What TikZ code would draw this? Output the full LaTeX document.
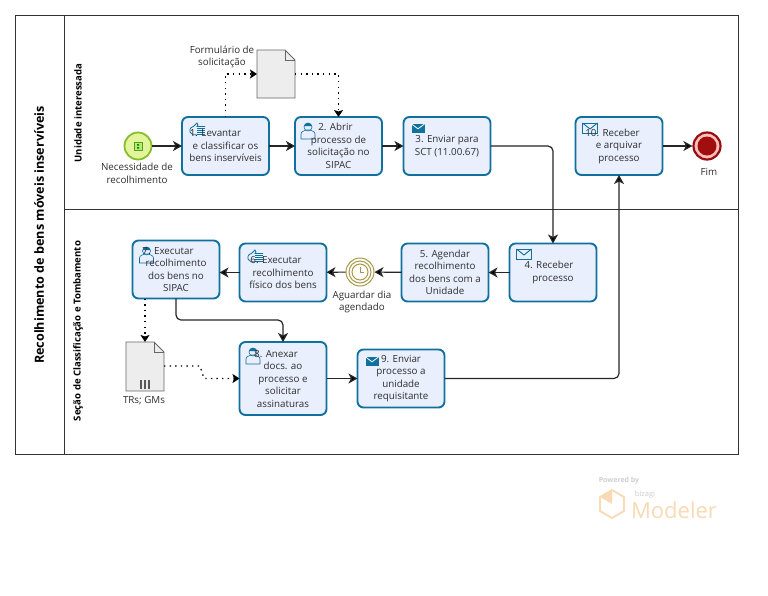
\documentclass[tikz,border=0pt]{standalone}
\usepackage{fontspec}
\setmainfont{Open Sans}
\usepackage{xcolor}
\usetikzlibrary{arrows.meta,calc}
\definecolor{taskfill}{HTML}{E9EFFD}
\definecolor{taskline}{HTML}{10719E}
\definecolor{labeltext}{HTML}{2E2E2E}
\definecolor{startfill}{HTML}{E3F59B}
\definecolor{startline}{HTML}{85BD2C}
\definecolor{endline}{HTML}{950F0F}
\definecolor{timerline}{HTML}{A89A45}
\definecolor{wmorange}{HTML}{FAD9B5}
\definecolor{wmgray}{HTML}{CFCFCF}
\tikzset{
	every node/.append style={font=\fontsize{9.8}{12.5}\selectfont, text=labeltext},
	task/.style = {
			draw=taskline, fill=taskfill, line width=1.9pt,
			rounded corners=6pt,
			minimum width=87pt, minimum height=58pt,
			inner sep=0pt, outer sep=0pt, align=center,
		},
	taskicon/.style 2 args = {
			path picture={\pic[sharp corners] at ($(path picture bounding box.north west)+(#1)$) {#2};},
		},
	doc/.style = {
			minimum width=38pt, minimum height=48pt,
			inner sep=0pt, outer sep=0pt,
		},
	caption/.style = {align=center, inner sep=0pt},
	lanetitle/.style = {rotate=90, inner sep=0pt, text=black, font=\fontsize{9.6}{11}\bfseries\selectfont},
	flow/.style = {draw=black!85, line width=1.2pt, rounded corners=5pt, -{Stealth[length=9pt,width=10pt,inset=2.5pt,fill=black]}},
	assoc/.style = {draw=black, line width=1.3pt, dash pattern=on 1.4pt off 4.2pt, -{Stealth[length=7pt,width=9pt,inset=1.5pt,fill=black]}},
	sendmail/.pic = {
			\fill[taskline] (-6.5,-4.5) rectangle (6.5,4.5);
			\draw[white, line width=0.8pt] (-6.5,-4) -- (0,0.8) -- (6.5,-4);
		},
	getmail/.pic = {
			\draw[taskline, line width=0.9pt] (-7.5,-5) rectangle (7.5,5);
			\draw[taskline, line width=0.9pt] (-7.5,-5) -- (0,1) -- (7.5,-5);
		},
	useric/.pic = {
			\draw[taskline, line width=0.6pt] (-7,9) -- (-7,4) .. controls (-7,1) and (-3,1) .. (-2,0) -- (2,0) .. controls (3,1) and (7,1) .. (7,4) -- (7,9) -- cycle;
			\draw[taskline, line width=0.6pt] (0,-3) circle (4pt);
			\fill[taskline] (-4,-4) .. controls (-3,-8) and (3,-8) .. (4,-4) -- cycle;
		},
	handic/.pic = {
			\draw[taskline, line width=0.8pt] (-7,2) .. controls (-8,-2) and (-5,-3) .. (-3,-4) -- (0,-7) -- (1,-5) -- (0,-3.5) -- (8,-3.5) (-7,2) .. controls (-6,5) and (-3,5) .. (0,5);
			\foreach \yy in {-2,0,2,4} {
				\draw[taskline, line width=0.9pt] (0,\yy) -- (8,\yy);
			}
		},
}
\newcommand{\foldeddoc}[1]{
	\draw[draw=black!60, fill=black!7, line width=0.9pt] (#1.north west) -- ($(#1.north east)+(-10,0)$) -- ($(#1.north east)+(0,10)$) -- (#1.south east) -- (#1.south west) -- cycle;
	\draw[draw=black!60, line width=0.9pt] ($(#1.north east)+(-10,0)$) -- ($(#1.north east)+(-10,10)$) -- ($(#1.north east)+(0,10)$);
}
\begin{document}
\begin{tikzpicture}[x=1pt,y=-1pt]
	\useasboundingbox (0,0) rectangle (768,595);
	\fill[white] (0,0) rectangle (768,595);

	% pool and lanes
	\draw[draw=black!80, line width=0.9pt] (15.5,15.5) rectangle (738,454);
	\draw[draw=black!80, line width=0.9pt] (64,15.5) -- (64,454) (64,209.5) -- (738,209.5);
	\node[lanetitle, font=\fontsize{12.6}{14}\bfseries\selectfont] (pooltitle) at (39,235) {Recolhimento de bens móveis inservíveis};
	\node[lanetitle] (lanetop) at (78,113) {Unidade interessada};
	\node[lanetitle] (lanebottom) at (78,331) {Seção de Classificação e Tombamento};

	% events
	\node[circle, draw=startline, fill=startfill, line width=1.8pt, minimum size=27pt, inner sep=0pt] (start) at (138,146) {};
	\node[circle, draw=endline, fill=red!25!white, line width=2.2pt, minimum size=27pt, inner sep=0pt] (end) at (707,146) {};
	\fill[endline!90!red] (end) circle (9.5pt);
	\node[circle, draw=timerline, fill=white, line width=1pt, minimum size=28pt, inner sep=0pt] (timer) at (360,272) {};
	\draw[timerline, line width=1pt] (timer) circle (11pt) (timer) circle (8pt);
	\draw[timerline, line width=0.9pt] (360,267) -- (360,272.5) -- (364,272.5);
	\draw[draw=startline!80!black, fill=startfill!70!green, line width=0.8pt] (134,142) rectangle (142,150);
	\fill[startline!50!black] (137,144) rectangle (139,145.5) (137,147) rectangle (139,148.5);

	% tasks
	\node[task, taskicon={15,13}{handic}] (task1) at (225.5,146) {1. Levantar\hspace*{20pt}\\e classificar os\\bens inservíveis};
	\node[task, taskicon={13,13}{useric}] (task2) at (338.5,146) {2. Abrir\hspace*{6pt}\\processo de\\solicitação no\\SIPAC};
	\node[task, taskicon={14.5,11}{sendmail}] (task3) at (447,146) {3. Enviar para\\SCT (11.00.67)};
	\node[task, taskicon={14.5,11}{getmail}] (task10) at (619,146) {10. Receber\hspace*{13pt}\\e arquivar\\processo};
	\node[task, taskicon={14.5,10.5}{getmail}] (task4) at (553,272.5) {4. Receber\hspace*{8pt}\\processo};
	\node[task] (task5) at (445,272.5) {5. Agendar\\recolhimento\\dos bens com a\\Unidade};
	\node[task, taskicon={15.5,13.5}{handic}] (task6) at (283,272.5) {6. Executar\hspace*{14pt}\\recolhimento\\físico dos bens};
	\node[task, taskicon={14,13.5}{useric}] (task7) at (176,269.5) {7. Executar\hspace*{16pt}\\recolhimento\\dos bens no\\SIPAC};
	\node[task, taskicon={13.5,13}{useric}, minimum height=73pt] (task8) at (283,378.5) {8. Anexar\hspace*{14pt}\\docs. ao\\processo e\\solicitar\\assinaturas};
	\node[task, taskicon={14.5,11.5}{sendmail}] (task9) at (401,378.5) {9. Enviar\\processo a\\unidade\\requisitante};

	% documents
	\node[doc] (doc1) at (276,74) {};
	\foldeddoc{doc1}
	\node[doc, minimum height=49pt] (doc2) at (145,366.5) {};
	\foldeddoc{doc2}
	\foreach \xx in {141,145,149} {
		\draw[black!65, line width=1.2pt] (\xx,380) -- (\xx,389);
	}

	% captions
	\node[caption] (capform) at (222,57) {Formulário de\\solicitação};
	\node[caption] (capstart) at (137,173.5) {Necessidade de\\recolhimento};
	\node[caption] (capend) at (709,172) {Fim};
	\node[caption] (captimer) at (362,302) {Aguardar dia\\agendado};
	\node[caption] (capdoc) at (144,401) {TRs; GMs};

	% sequence flows
	\draw[flow] (start) -- (task1);
	\draw[flow] (task1) -- (task2);
	\draw[flow] (task2) -- (task3);
	\draw[flow] (task3) -| (task4);
	\draw[flow] (task4) -- (task5);
	\draw[flow] (task5) -- (timer);
	\draw[flow] (timer) -- (task6);
	\draw[flow] (task6.west) -- (task7.east |- task6.west);
	\coordinate (bend7) at (283,320);
	\draw[flow] (task7) |- (bend7) -- (task8);
	\draw[flow] (task8) -- (task9);
	\draw[flow] (task9) -| (task10);
	\draw[flow] (task10) -- (end);

	% associations
	\coordinate (bend1) at (225.5,74);
	\coordinate (bend2) at (338.5,74);
	\coordinate (bend3) at (200,366);
	\coordinate (bend4) at (204,378.5);
	\draw[assoc] (task1) -- (bend1) -- (doc1);
	\draw[assoc] (doc1) -- (bend2) -- (task2);
	\draw[assoc] (task7.south -| doc2.north) -- (doc2);
	\draw[assoc] (doc2.east |- bend3) -- (bend3) -- (bend4) -- (task8.west |- bend4);

	% watermark
	\node[inner sep=0pt, text=wmgray, font=\fontsize{7}{8}\bfseries\selectfont] (wmpowered) at (619,481) {Powered by};
	\node[inner sep=0pt, text=wmgray, font=\fontsize{7.5}{8}\selectfont] (wmbizagi) at (645,495) {bizagi};
	\node[inner sep=0pt, text=wmorange, font=\fontsize{22}{22}\selectfont] (wmmodeler) at (674,510) {Modeler};
	\draw[wmorange, line width=1.8pt, line join=round] (612,490) -- (624,497) -- (624,511) -- (612,518) -- (600,511) -- (600,497) -- cycle;
	\fill[wmorange] (612,490) -- (612,504) -- (600,497) -- cycle;
\end{tikzpicture}
\end{document}
